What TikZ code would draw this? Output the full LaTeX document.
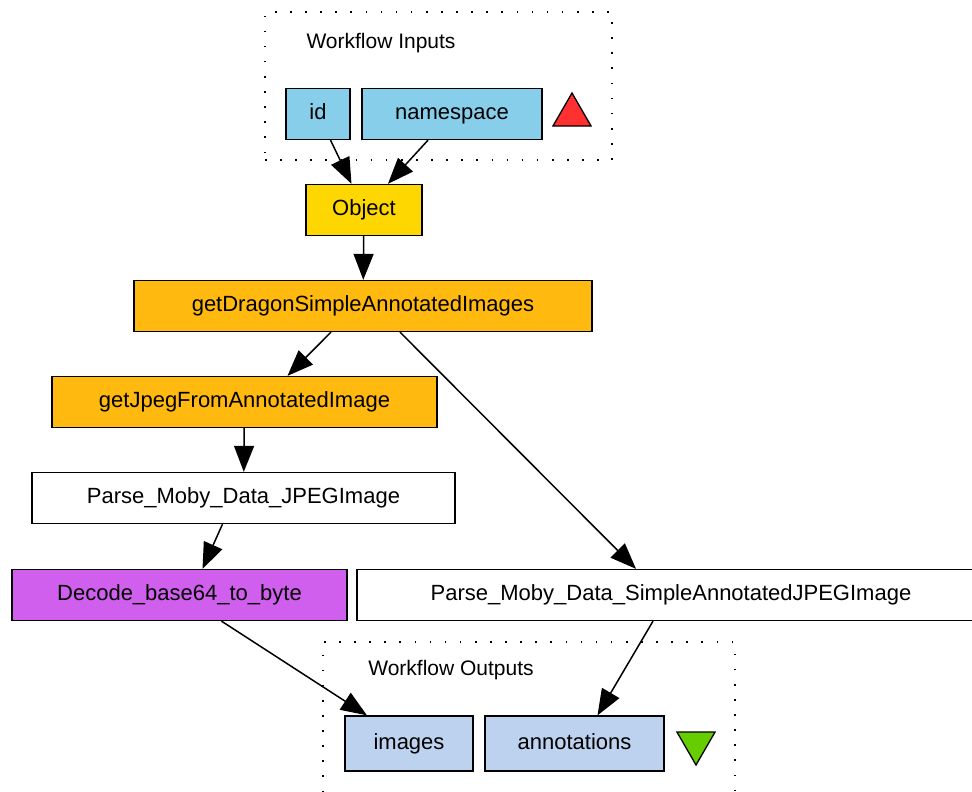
\documentclass[tikz,border=0pt]{standalone}
\usepackage{fontspec}
\setmainfont{Liberation Sans}
\definecolor{inp}{HTML}{87CEEB}
\definecolor{outp}{HTML}{BCD2EE}
\definecolor{gld}{HTML}{FFD700}
\definecolor{org}{HTML}{FFB90F}
\definecolor{prp}{HTML}{D15FEE}
\definecolor{red}{HTML}{FF3030}
\definecolor{grn}{HTML}{66CD00}
\usetikzlibrary{arrows.meta,positioning,shapes.geometric}
\tikzset{
  >={Triangle[length=26pt,width=20pt]},
  box/.style={draw=black,line width=1.3pt,minimum height=51pt,inner sep=2pt,text height=15pt,text depth=4pt,font=\fontsize{22}{25}\selectfont,fill=white},
  ibox/.style={box,fill=inp},
  obox/.style={box,fill=outp},
  gbox/.style={box,fill=gld},
  abox/.style={box,fill=org},
  pbox/.style={box,fill=prp},
  clu/.style={draw=black,line width=1.6pt,dash pattern=on 1.6pt off 13.5pt,inner sep=0pt},
  lab/.style={font=\fontsize{21}{24}\selectfont},
  tri/.style={draw=black,line width=1.3pt,regular polygon,regular polygon sides=3,minimum size=44pt,inner sep=0pt},
  arr/.style={->,draw=black,line width=1.5pt},
}
\begin{document}
\begin{tikzpicture}[x=1pt,y=-1pt]
\useasboundingbox (0,0) rectangle (972,792);
\node[clu,minimum width=347pt,minimum height=148pt] (incl) at (438.5,86) {};
\node[lab] (inlab) at (381,43) {Workflow Inputs};
\node[ibox,minimum width=64pt] (id) at (318,114) {id};
\node[ibox,minimum width=180pt] (ns) at (452,114) {namespace};
\node[tri,fill=red] (intri) at (572,115) {};
\node[gbox,minimum width=116pt] (obj) at (364,210) {Object};
\node[abox,minimum width=458pt] (dragon) at (363,306) {getDragonSimpleAnnotatedImages};
\node[abox,minimum width=385pt] (jpeg) at (244.5,402) {getJpegFromAnnotatedImage};
\node[box,minimum width=423pt] (pjpeg) at (243.5,498) {Parse\_Moby\_Data\_JPEGImage};
\node[pbox,minimum width=335pt] (dec) at (179.5,595) {Decode\_base64\_to\_byte};
\node[box,minimum width=628pt] (psimple) at (671,595) {Parse\_Moby\_Data\_SimpleAnnotatedJPEGImage};
\node[clu,minimum width=412pt,minimum height=160pt] (outcl) at (529,722) {};
\node[lab] (outlab) at (451,670) {Workflow Outputs};
\node[obox,minimum width=128pt,minimum height=55pt] (img) at (409,743.5) {images};
\node[obox,minimum width=179pt,minimum height=55pt] (ann) at (574.5,743.5) {annotations};
\node[tri,fill=grn,shape border rotate=180] (outtri) at (696,743) {};
\draw[arr] (id) -- (obj);
\draw[arr] (ns) -- (obj);
\draw[arr] (obj) -- (dragon);
\draw[arr] ([xshift=-32pt]dragon.south) -- ([xshift=43pt]jpeg.north);
\draw[arr] ([xshift=37pt]dragon.south) -- ([xshift=-35pt]psimple.north);
\draw[arr] (jpeg) -- (pjpeg);
\draw[arr] ([xshift=-21pt]pjpeg.south) -- ([xshift=23pt]dec.north);
\draw[arr] ([xshift=42pt]dec.south) -- ([xshift=-42pt]img.north);
\draw[arr] ([xshift=-18pt]psimple.south) -- ([xshift=23pt]ann.north);
\end{tikzpicture}
\end{document}
